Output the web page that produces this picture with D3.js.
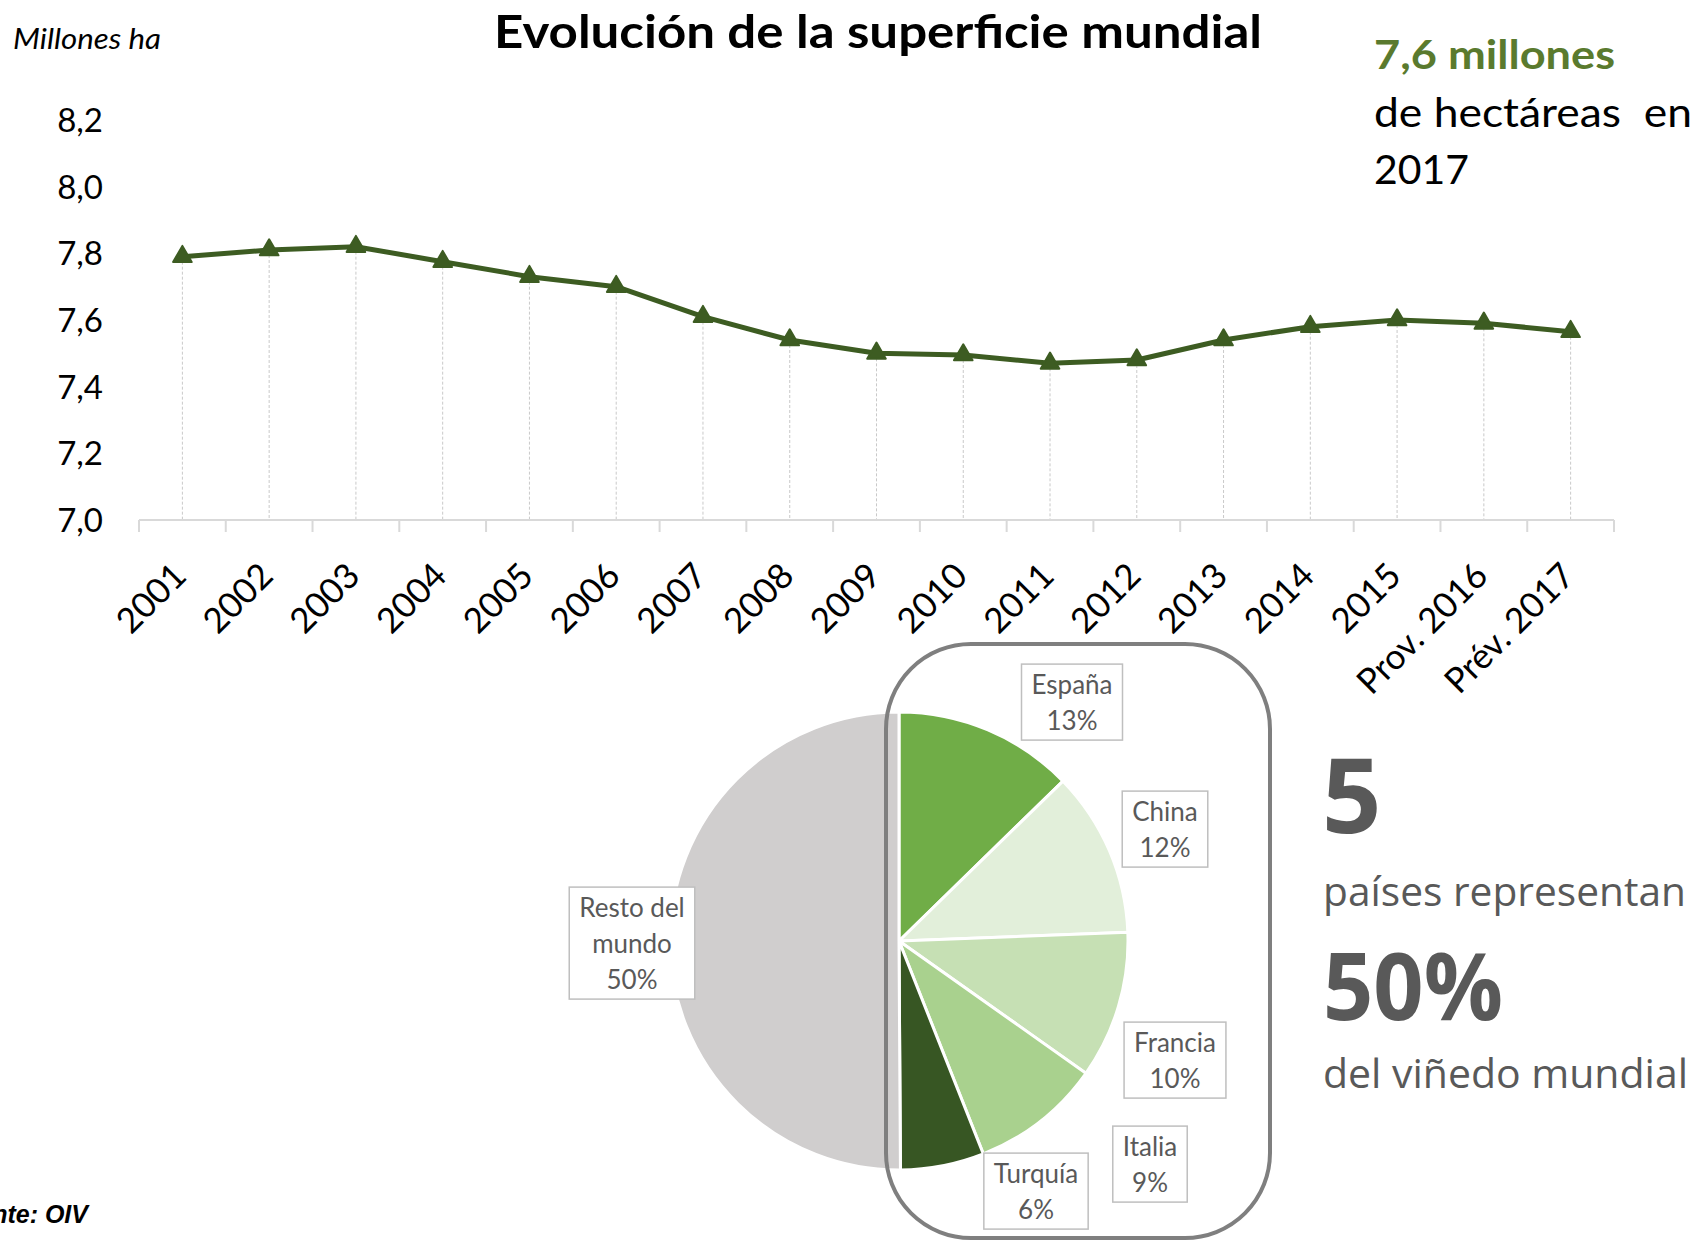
<!DOCTYPE html>
<html>
<head>
<meta charset="utf-8">
<script src="https://cdn.jsdelivr.net/npm/d3@7"></script>
<style>
  body { margin: 0; background: #fff; }
  svg { display: block; }
</style>
</head>
<body>
<div id="chart"></div>
<script>
// Line chart: world vineyard surface (million ha)
const years = ['2001', '2002', '2003', '2004', '2005', '2006', '2007', '2008', '2009',
    '2010', '2011', '2012', '2013', '2014', '2015', 'Prov. 2016', 'Prév. 2017'];
const surface = [7.79, 7.81, 7.82, 7.775, 7.73, 7.70, 7.61, 7.54, 7.50,
    7.495, 7.47, 7.48, 7.54, 7.58, 7.60, 7.59, 7.565];
const yTicks = [7.0, 7.2, 7.4, 7.6, 7.8, 8.0, 8.2];

// Pie chart: share of world vineyard
const countries = ['España', 'China', 'Francia', 'Italia', 'Turquía', 'Resto del mundo'];
const shares = [12.7, 11.7, 10.4, 9.2, 5.9, 50.1];
const shareLabels = ['13%', '12%', '10%', '9%', '6%', '50%'];
const sliceColors = ['#70ad47', '#e2efda', '#c6e0b4', '#a9d18e', '#375623', '#d0cece'];

// where each data label box sits, relative to the pie centre
const labelOffsets = [[173, -238], [266, -111], [276, 120], [251, 224], [137, 251], [-267, 3]];

const W = 1701, H = 1241;
const svg = d3.select('#chart').append('svg')
    .attr('width', W)
    .attr('height', H)
    .style('font-family', 'Lato, "Open Sans", sans-serif');

const fmt = d3.formatLocale({ decimal: ',', thousands: '.', grouping: [3], currency: ['', '€'] }).format('.1f');

// ---------- line chart ----------
const x = d3.scaleBand()
    .domain(years)
    .range([139, 1614]);

const y = d3.scaleLinear()
    .domain([7.0, 8.2])
    .range([520, 120]);

const series = years.map((yr, i) => ({ year: yr, value: surface[i] }));

// y labels (no axis line)
svg.append('g')
    .selectAll('text')
    .data(yTicks)
    .join('text')
    .attr('x', 103)
    .attr('y', d => y(d))
    .attr('dy', '0.36em')
    .attr('text-anchor', 'end')
    .style('font-size', '33px')
    .style('fill', '#000')
    .text(d => fmt(d));

// drop lines
svg.append('g')
    .selectAll('line')
    .data(series)
    .join('line')
    .attr('x1', d => x(d.year) + x.bandwidth() / 2)
    .attr('x2', d => x(d.year) + x.bandwidth() / 2)
    .attr('y1', d => y(d.value))
    .attr('y2', y(7.0))
    .attr('stroke', '#c9c9c9')
    .attr('stroke-width', 1)
    .attr('stroke-dasharray', '3,2');

// x axis line with category-boundary ticks
const xAxis = svg.append('g');
xAxis.append('line')
    .attr('x1', x.range()[0])
    .attr('x2', x.range()[1])
    .attr('y1', y(7.0))
    .attr('y2', y(7.0))
    .attr('stroke', '#d9d9d9')
    .attr('stroke-width', 2);

const bounds = years.map(d => x(d)).concat([x.range()[1]]);
xAxis.selectAll('.tick')
    .data(bounds)
    .join('line')
    .attr('class', 'tick')
    .attr('x1', d => d)
    .attr('x2', d => d)
    .attr('y1', y(7.0))
    .attr('y2', y(7.0) + 12)
    .attr('stroke', '#d9d9d9')
    .attr('stroke-width', 2);

xAxis.selectAll('.xlab')
    .data(years)
    .join('text')
    .attr('class', 'xlab')
    .attr('text-anchor', 'end')
    .attr('transform', d => `translate(${x(d) + x.bandwidth() / 2 + 6},578) rotate(-45)`)
    .style('font-size', '35px')
    .text(d => d);

// line + triangle markers
svg.append('path')
    .datum(series)
    .attr('fill', 'none')
    .attr('stroke', '#3d5c22')
    .attr('stroke-width', 5)
    .attr('stroke-linejoin', 'round')
    .attr('d', d3.line()
        .x(d => x(d.year) + x.bandwidth() / 2)
        .y(d => y(d.value)));

svg.append('g')
    .selectAll('path')
    .data(series)
    .join('path')
    .attr('transform', d => `translate(${x(d.year) + x.bandwidth() / 2},${y(d.value)})`)
    .attr('d', d3.symbol(d3.symbolTriangle, 150))
    .attr('fill', '#3d5c22')
    .attr('stroke', '#3d5c22')
    .attr('stroke-width', 2)
    .attr('stroke-linejoin', 'round');

// titles
svg.append('text')
    .attr('x', 494)
    .attr('y', 48)
    .attr('textLength', 768)
    .attr('lengthAdjust', 'spacingAndGlyphs')
    .style('font-size', '46px')
    .style('font-weight', 'bold')
    .text('Evolución de la superficie mundial');

svg.append('text')
    .attr('x', 13)
    .attr('y', 49)
    .attr('textLength', 148)
    .attr('lengthAdjust', 'spacingAndGlyphs')
    .style('font-size', '28px')
    .style('font-style', 'italic')
    .text('Millones ha');

svg.append('text')
    .attr('x', 1374)
    .attr('y', 69)
    .attr('textLength', 241)
    .attr('lengthAdjust', 'spacingAndGlyphs')
    .style('font-size', '40px')
    .style('font-weight', 'bold')
    .style('fill', '#5a7a2e')
    .text('7,6 millones');

svg.append('text')
    .attr('x', 1374)
    .attr('y', 127)
    .attr('textLength', 318)
    .attr('lengthAdjust', 'spacingAndGlyphs')
    .style('font-size', '40px')
    .style('white-space', 'pre')
    .text('de hectáreas  en');

svg.append('text')
    .attr('x', 1374)
    .attr('y', 184)
    .attr('textLength', 95)
    .attr('lengthAdjust', 'spacingAndGlyphs')
    .style('font-size', '40px')
    .text('2017');

// ---------- pie ----------
const cx = 899, cy = 941, r = 229;
const pieData = countries.map((c, i) => ({ name: c, share: shares[i], label: shareLabels[i], color: sliceColors[i], off: labelOffsets[i] }));

const arcs = d3.pie()
    .sort(null)
    .value(d => d.share)
    .startAngle(0)
    .endAngle(2 * Math.PI)(pieData);

const arc = d3.arc().innerRadius(0).outerRadius(r);

const pieG = svg.append('g').attr('transform', `translate(${cx},${cy})`);
pieG.selectAll('path')
    .data(arcs)
    .join('path')
    .attr('d', arc)
    .attr('fill', d => d.data.color)
    .attr('stroke', '#fff')
    .attr('stroke-width', 3);

// frame around the five countries
svg.append('rect')
    .attr('x', 886)
    .attr('y', 644)
    .attr('width', 384)
    .attr('height', 594)
    .attr('rx', 85)
    .attr('ry', 85)
    .attr('fill', 'none')
    .attr('stroke', '#7f7f7f')
    .attr('stroke-width', 4);

// data labels in boxes
const lineH = 36;
arcs.forEach(a => {
    const d = a.data;
    const lines = d.name === 'Resto del mundo' ? ['Resto del', 'mundo', d.label] : [d.name, d.label];
    const g = pieG.append('g').attr('transform', `translate(${d.off[0]},${d.off[1]})`);
    const box = g.append('rect');
    const t = g.append('text')
        .attr('text-anchor', 'middle')
        .style('font-size', '26px')
        .style('fill', '#595959');
    lines.forEach((ln, i) => {
        t.append('tspan')
            .attr('x', 0)
            .attr('y', (i - (lines.length - 1) / 2) * lineH)
            .attr('dy', '0.35em')
            .text(ln);
    });
    const bb = t.node().getBBox();
    box.attr('x', bb.x - 10)
        .attr('y', bb.y - 4)
        .attr('width', bb.width + 20)
        .attr('height', bb.height + 8)
        .attr('fill', '#fff')
        .attr('stroke', '#bfbfbf')
        .attr('stroke-width', 1.5);
});

// ---------- right-hand key figures ----------
const grey = '#595959';
svg.append('text')
    .attr('x', 1322).attr('y', 833)
    .style('font-family', '"Open Sans", sans-serif')
    .style('font-size', '104px').style('font-weight', 'bold').style('fill', grey)
    .text('5');

svg.append('text')
    .attr('x', 1323).attr('y', 906)
    .attr('textLength', 363).attr('lengthAdjust', 'spacingAndGlyphs')
    .style('font-family', '"Open Sans", sans-serif')
    .style('font-size', '40px').style('fill', grey)
    .text('países representan');

svg.append('text')
    .attr('x', 1323).attr('y', 1020)
    .attr('textLength', 180).attr('lengthAdjust', 'spacingAndGlyphs')
    .style('font-family', '"Open Sans", sans-serif')
    .style('font-size', '94px').style('font-weight', 'bold').style('fill', grey)
    .text('50%');

svg.append('text')
    .attr('x', 1323).attr('y', 1088)
    .attr('textLength', 365).attr('lengthAdjust', 'spacingAndGlyphs')
    .style('font-family', '"Open Sans", sans-serif')
    .style('font-size', '40px').style('fill', grey)
    .text('del viñedo mundial');

// source (runs off the left edge, as in the original layout)
svg.append('text')
    .attr('x', 88).attr('y', 1223)
    .attr('text-anchor', 'end')
    .style('font-family', '"Liberation Sans", Arial, sans-serif')
    .style('font-size', '25px').style('font-weight', 'bold').style('font-style', 'italic')
    .text('Fuente: OIV');
</script>
</body>
</html>
